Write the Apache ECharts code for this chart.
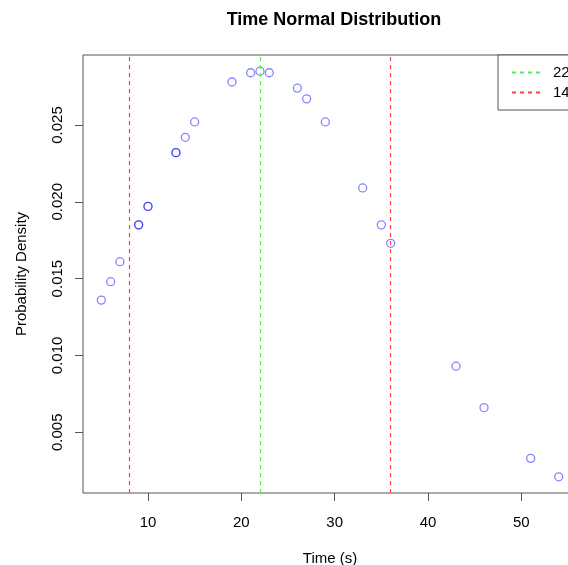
<!DOCTYPE html>
<html lang="en">
<head>
	<meta charset="UTF-8">
	<title>Time Normal Distribution</title>
	<style>
		*{margin: 0; padding: 0; box-sizing: border-box;}
		body{ background: #fff; }
		#view{ width: 568px; height: 565px; }
	</style>
</head>
<body>
	<div id="view"></div>
	<script src="https://cdn.jsdelivr.net/npm/echarts@6/dist/echarts.min.js"></script>
	<script>
	// values
	const times = [5, 6, 7, 9, 9, 10, 10, 13, 13, 14, 15, 19, 21, 22, 23, 26, 27, 29, 33, 35, 36, 43, 46, 51, 54];
	const density = [0.0136, 0.0148, 0.0161, 0.0185, 0.0185, 0.0197, 0.0197, 0.0232, 0.0232, 0.0242, 0.0252, 0.0278, 0.0284, 0.0285, 0.0284, 0.0274, 0.0267, 0.0252, 0.0209, 0.0185, 0.0173, 0.0093, 0.0066, 0.0033, 0.0021];
	const meanVal = 22;
	const sdVal = 14;
	const xTicks = [10, 20, 30, 40, 50];
	const yTicks = [0.005, 0.010, 0.015, 0.020, 0.025];

	const font = "'Liberation Sans', Arial, sans-serif";
	const axisCol = '#555';
	const red = '#ff4040';
	const green = '#50ee50';

	// R style 4% padding around the data range
	function padRange(arr){
		let lo = Math.min(...arr), hi = Math.max(...arr), d = (hi - lo) * 0.04;
		return [lo - d, hi + d];
	}
	const xr = padRange(times), yr = padRange(density);

	const pts = times.map((t, i) => [t, density[i]]);
	const dash = { type: [4, 4], width: 1.2, opacity: 1 };

	let option = {
		backgroundColor: '#fff',
		animation: false,
		textStyle: { fontFamily: font },
		title: {
			text: 'Time Normal Distribution',
			left: 329, top: 6, textAlign: 'center',
			textStyle: { fontFamily: font, fontSize: 18, fontWeight: 'bold', color: '#000' }
		},
		grid: {
			left: 83, top: 55, width: 494, height: 438,
			outerBoundsMode: 'none', containLabel: false,
			show: true, borderColor: axisCol, borderWidth: 1
		},
		legend: {
			orient: 'vertical', left: 498, top: 55,
			padding: [10, 30, 10, 13],
			itemWidth: 28, itemHeight: 14, itemGap: 5,
			borderColor: axisCol, borderWidth: 1, backgroundColor: '#fff',
			itemStyle: { opacity: 0 },
			textStyle: { fontFamily: font, fontSize: 15, color: '#000', padding: [0, 0, 0, 8] },
			data: [String(meanVal), String(sdVal)]
		},
		xAxis: {
			type: 'value', min: xr[0], max: xr[1],
			name: 'Time (s)', nameLocation: 'middle', nameGap: 58,
			nameTextStyle: { fontFamily: font, fontSize: 15, color: '#000' },
			axisLine: { show: false },
			axisTick: { show: true, length: 8, customValues: xTicks, lineStyle: { color: axisCol } },
			axisLabel: { customValues: xTicks, margin: 22, fontSize: 15, color: '#000' },
			splitLine: { show: false }
		},
		yAxis: {
			type: 'value', min: yr[0], max: yr[1],
			name: 'Probability Density', nameLocation: 'middle', nameGap: 54,
			nameTextStyle: { fontFamily: font, fontSize: 15, color: '#000' },
			axisLine: { show: false },
			axisTick: { show: true, length: 8, customValues: yTicks, lineStyle: { color: axisCol } },
			axisLabel: { customValues: yTicks, rotate: 90, margin: 18, fontSize: 15, color: '#000',
				formatter: v => v.toFixed(3) },
			splitLine: { show: false }
		},
		series: [
			{
				type: 'line', name: String(meanVal), data: [],
				symbol: 'none', color: green,
				lineStyle: Object.assign({ color: green }, dash),
				markLine: {
					silent: true, symbol: 'none', label: { show: false },
					lineStyle: Object.assign({ color: green }, dash),
					emphasis: { disabled: true },
					data: [{ xAxis: meanVal, lineStyle: { color: green } }]
				}
			},
			{
				type: 'line', name: String(sdVal), data: [],
				symbol: 'none', color: red,
				lineStyle: Object.assign({ color: red }, dash),
				markLine: {
					silent: true, symbol: 'none', label: { show: false },
					lineStyle: Object.assign({ color: red }, dash),
					emphasis: { disabled: true },
					data: [
						{ xAxis: meanVal - sdVal, lineStyle: { color: red } },
						{ xAxis: meanVal + sdVal, lineStyle: { color: red } }
					]
				}
			},
			{
				type: 'scatter', name: 'pts', data: pts,
				symbol: 'circle', symbolSize: 8,
				itemStyle: { color: 'rgba(0,0,0,0)', borderColor: 'rgba(0,0,255,0.6)', borderWidth: 1.3 },
				silent: true
			}
		]
	};
	var myChart = echarts.init(document.getElementById('view'));
	myChart.setOption(option);
	</script>
</body>
</html>
